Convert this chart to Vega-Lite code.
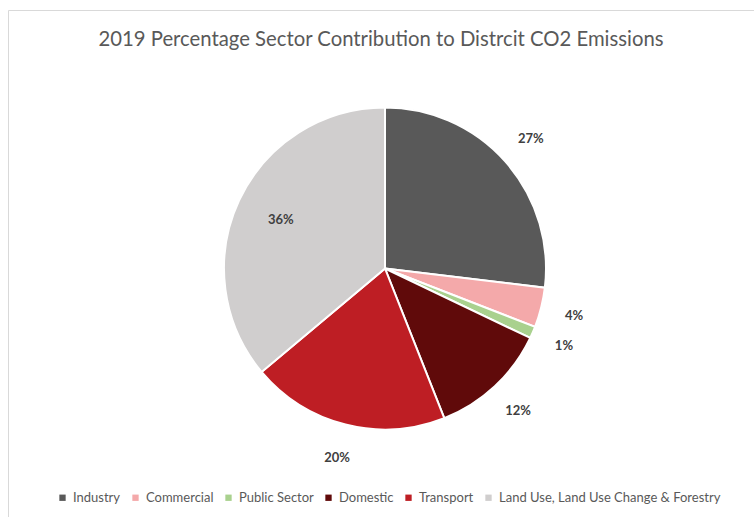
{
  "$schema": "https://vega.github.io/schema/vega-lite/v6.json",
  "autosize": "none",
  "padding": {"left": 8, "top": 10, "right": 0, "bottom": 0},
  "width": 746,
  "height": 507,
  "background": "white",
  "config": {
    "view": {"stroke": "#d9d9d9", "strokeWidth": 1},
    "font": "Lato"
  },
  "title": {
    "text": "2019 Percentage Sector Contribution to Distrcit CO2 Emissions",
    "anchor": "middle",
    "offset": -43,
    "fontSize": 20.3,
    "fontWeight": "normal",
    "color": "#595959",
    "font": "Lato"
  },
  "data": {
    "values": [
      {"sector": "Industry", "rank": 1, "value": 0.269},
      {"sector": "Commercial", "rank": 2, "value": 0.040},
      {"sector": "Public Sector", "rank": 3, "value": 0.012},
      {"sector": "Domestic", "rank": 4, "value": 0.119},
      {"sector": "Transport", "rank": 5, "value": 0.199},
      {"sector": "Land Use, Land Use Change & Forestry", "rank": 6, "value": 0.361}
    ]
  },
  "encoding": {
    "theta": {"field": "value", "type": "quantitative", "stack": true},
    "order": {"field": "rank", "type": "quantitative", "sort": "ascending"},
    "color": {
      "field": "sector",
      "type": "nominal",
      "sort": ["Industry", "Commercial", "Public Sector", "Domestic", "Transport", "Land Use, Land Use Change & Forestry"],
      "scale": {
        "domain": ["Industry", "Commercial", "Public Sector", "Domestic", "Transport", "Land Use, Land Use Change & Forestry"],
        "range": ["#595959", "#f4a9aa", "#a9d18e", "#600a0a", "#be1e24", "#d0cece"]
      },
      "legend": {
        "orient": "none",
        "legendX": 48,
        "legendY": 481,
        "direction": "horizontal",
        "columns": 6,
        "title": null,
        "symbolType": "square",
        "symbolSize": 40,
        "symbolStrokeWidth": 0,
        "labelFontSize": 13,
        "labelColor": "#595959",
        "labelFont": "Lato",
        "labelLimit": 300,
        "columnPadding": 8,
        "labelOffset": 4
      }
    }
  },
  "layer": [
    {
      "mark": {"type": "point", "opacity": 0},
      "encoding": {
        "theta": null,
        "order": null,
        "color": null,
        "x": {"field": "rank", "type": "quantitative", "axis": null},
        "y": {"field": "rank", "type": "quantitative", "axis": null}
      }
    },
    {
      "mark": {"type": "arc", "outerRadius": 161, "stroke": "white", "strokeWidth": 2, "xOffset": 4, "yOffset": 5}
    },
    {
      "mark": {"type": "text", "radius": 195, "fontSize": 13, "fontWeight": "bold", "font": "Lato", "xOffset": 4, "yOffset": 5},
      "encoding": {
        "color": {"value": "#404040"},
        "text": {"condition": {"test": "datum.value > 0.3", "value": ""}, "field": "value", "type": "quantitative", "format": ".0%"}
      }
    },
    {
      "mark": {"type": "text", "radius": 115, "fontSize": 13, "fontWeight": "bold", "font": "Lato", "xOffset": 4, "yOffset": 5},
      "encoding": {
        "color": {"value": "#404040"},
        "text": {"condition": {"test": "datum.value <= 0.3", "value": ""}, "field": "value", "type": "quantitative", "format": ".0%"}
      }
    }
  ]
}
